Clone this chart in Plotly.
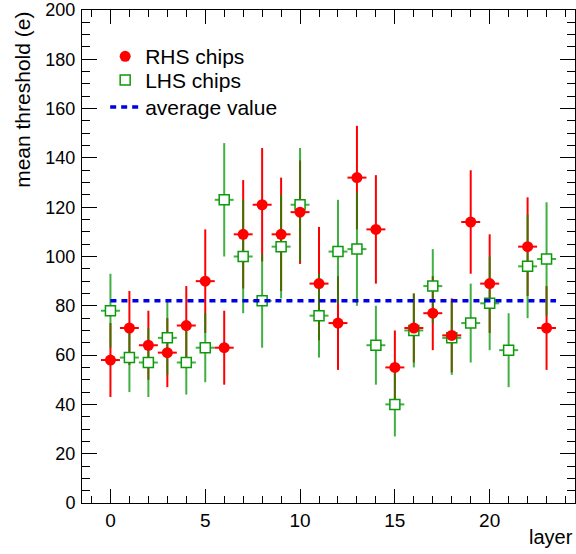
import plotly.graph_objects as go

# ---------------- data ----------------
layers = list(range(24))

rhs_layers = [0, 1, 2, 3, 4, 5, 6, 7, 8, 9, 10, 11, 12, 13, 14, 15, 16, 17, 18, 19, 20, 22, 23]
rhs_vals = [58, 71, 64, 61, 72, 90, 63, 109, 121, 109, 118, 89, 73, 132, 111, 55, 71, 77, 68, 114, 89, 104, 71]
rhs_errs = [15, 15, 14, 14, 16, 21, 15, 22, 23, 23, 21, 23, 19, 21, 22, 15, 14, 15, 15, 21, 20, 20, 17]

lhs_layers = layers
lhs_vals = [78, 59, 57, 67, 57, 63, 123, 100, 82, 104, 121, 76, 102, 103, 64, 40, 70, 88, 67, 73, 81, 62, 96, 99]
lhs_errs = [15, 14, 14, 15, 13, 14, 23, 23, 19, 21, 23, 17, 21, 23, 16, 13, 15, 15, 15, 16, 19, 15, 21, 23]

layer_half_width = 0.5
average_value = 82
average_span = [0, 23.5]

x_range = [-1.5, 24.5]
y_range = [0, 200]

RED = "#ff0000"
GREEN = "#0a9a0a"
GREEN_ERR = "rgba(0,150,0,0.75)"
BLUE = "#0000e6"
FONT = "Liberation Sans, Arial, Helvetica, sans-serif"

fig = go.Figure()

# red error bars
fig.add_trace(go.Scatter(
    x=rhs_layers, y=rhs_vals, mode="markers",
    marker=dict(size=1, color="rgba(0,0,0,0)"),
    error_y=dict(type="data", array=rhs_errs, width=0, thickness=2, color=RED),
    error_x=dict(type="constant", value=layer_half_width, width=0, thickness=2, color=RED),
    showlegend=False, hoverinfo="skip"))

# green error bars
fig.add_trace(go.Scatter(
    x=lhs_layers, y=lhs_vals, mode="markers",
    marker=dict(size=1, color="rgba(0,0,0,0)"),
    error_y=dict(type="data", array=lhs_errs, width=0, thickness=2, color=GREEN_ERR),
    error_x=dict(type="constant", value=layer_half_width, width=0, thickness=2, color=GREEN_ERR),
    showlegend=False, hoverinfo="skip"))

# green markers
fig.add_trace(go.Scatter(
    x=lhs_layers, y=lhs_vals, mode="markers", name="LHS chips", legend="legend2",
    marker=dict(symbol="square", size=10, color="white", line=dict(color=GREEN, width=1.5))))

# red markers
fig.add_trace(go.Scatter(
    x=rhs_layers, y=rhs_vals, mode="markers", name="RHS chips", legend="legend",
    marker=dict(symbol="circle", size=11, color=RED)))

# average line
fig.add_trace(go.Scatter(
    x=average_span, y=[average_value, average_value], mode="lines", name="average value",
    legend="legend3", line=dict(color=BLUE, width=3.5, dash="6px,5px")))

axis_common = dict(
    showgrid=False, zeroline=False, showline=True, linecolor="black", linewidth=1,
    mirror="ticks", ticks="inside", tickcolor="black", tickwidth=1,
    ticklabeloverflow="allow",
)

fig.update_xaxes(range=x_range, tickmode="linear", tick0=0, dtick=5, ticklen=14,
                 minor=dict(ticks="inside", dtick=1, tick0=0, ticklen=7, tickcolor="black", tickwidth=1),
                 ticklabelstandoff=0, tickfont=dict(family=FONT, size=19, color="black"),
                 **axis_common)
fig.update_yaxes(range=y_range, tickmode="linear", tick0=0, dtick=20, ticklen=15,
                 minor=dict(ticks="inside", dtick=5, tick0=0, ticklen=8, tickcolor="black", tickwidth=1),
                 ticklabelstandoff=2, tickfont=dict(family=FONT, size=18, color="black"),
                 **axis_common)

fig.add_annotation(text="mean threshold (e)", textangle=-90, xref="paper", yref="paper",
                   x=-0.122, y=1.0, xanchor="center", yanchor="top", showarrow=False,
                   font=dict(family=FONT, size=21, color="black"))
fig.add_annotation(text="layer", xref="paper", yref="paper",
                   x=1.0, y=-0.043, xanchor="right", yanchor="top", showarrow=False,
                   font=dict(family=FONT, size=20, color="black"))

legend_common = dict(xanchor="left", yanchor="top", bgcolor="rgba(0,0,0,0)", borderwidth=0,
                     font=dict(family=FONT, size=21, color="black"), itemwidth=30)

fig.update_layout(
    width=576, height=554,
    margin=dict(l=82, r=1, t=10, b=51),
    paper_bgcolor="white", plot_bgcolor="white",
    font=dict(family=FONT, color="black"),
    legend=dict(x=0.047, y=0.947, **legend_common),
    legend2=dict(x=0.047, y=0.899, **legend_common),
    legend3=dict(x=0.047, y=0.844, **legend_common),
)

fig.write_html("out.html", config={"displayModeBar": False},
               post_script="document.body.style.margin='0px';")
